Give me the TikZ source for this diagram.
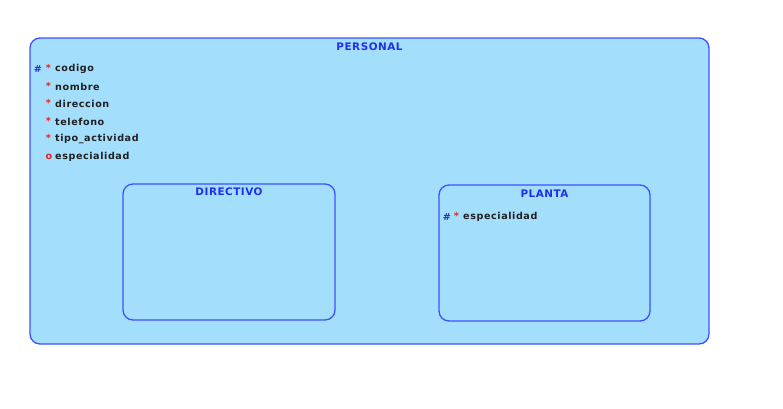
\documentclass[tikz,border=0pt]{standalone}
\usepackage{fontspec}
\newfontfamily\erfont[LetterSpace=6]{DejaVu Sans}
\newfontfamily\erhead[LetterSpace=5]{DejaVu Sans}
\usetikzlibrary{positioning}
\definecolor{entfill}{HTML}{A3DFFD}
\definecolor{entline}{HTML}{4050FF}
\definecolor{enttitle}{HTML}{2030E8}
\definecolor{markred}{HTML}{E82020}
\definecolor{markblue}{HTML}{2030C0}
\definecolor{attrtext}{HTML}{202020}
\tikzset{
  entbox/.style={draw=entline, fill=entfill, line width=1.3pt, rounded corners=10pt, inner sep=0pt},
  enthead/.style={font=\erhead\fontsize{10.4}{12}\selectfont\bfseries, text=enttitle, inner sep=0pt, anchor=north},
  attr/.style={font=\erfont\fontsize{9.6}{11}\selectfont\bfseries, text=attrtext, inner sep=0pt, anchor=west},
  attrmark/.style={font=\erfont\fontsize{9.6}{11}\selectfont\bfseries, inner sep=0pt}
}
\begin{document}
\begin{tikzpicture}[x=1pt, y=-1pt]
    \useasboundingbox (0,0) rectangle (783,408);
    % Supertype
    \node[entbox, minimum width=679pt, minimum height=306pt] (personal) at (369.5,191) {};
    \node[enthead, below=5pt of personal.north] (personalT) {PERSONAL};
    \node[attrmark, text=markblue] (pk1) at (38,69) {\#};
    \foreach \y/\name/\nm [count=\i] in {69/codigo/a1, 87/nombre/a2, 104/direccion/a3, 122/telefono/a4, 139/tipo\_actividad/a5}
        {\node[attrmark, text=markred] (s\nm) at (48.5,\y-1.5) {*};
         \node[attr] (\nm) at (55,\y) {\name};}
    \node[attrmark, text=markred] (o6) at (49,157) {o};
    \node[attr] (a6) at (55,157) {especialidad};

    % Subtypes
    \node[entbox, minimum width=212pt, minimum height=136pt] (directivo) at (229,252) {};
    \node[enthead, below=4.5pt of directivo.north] (directivoT) {DIRECTIVO};
    \node[entbox, minimum width=211pt, minimum height=136pt] (planta) at (544.5,253) {};
    \node[enthead, below=5.5pt of planta.north] (plantaT) {PLANTA};
    \node[attrmark, text=markblue] (pk2) at (447,217) {\#};
    \node[attrmark, text=markred] (sp1) at (456.5,215.5) {*};
    \node[attr] (p1) at (463,217) {especialidad};
\end{tikzpicture}
\end{document}
